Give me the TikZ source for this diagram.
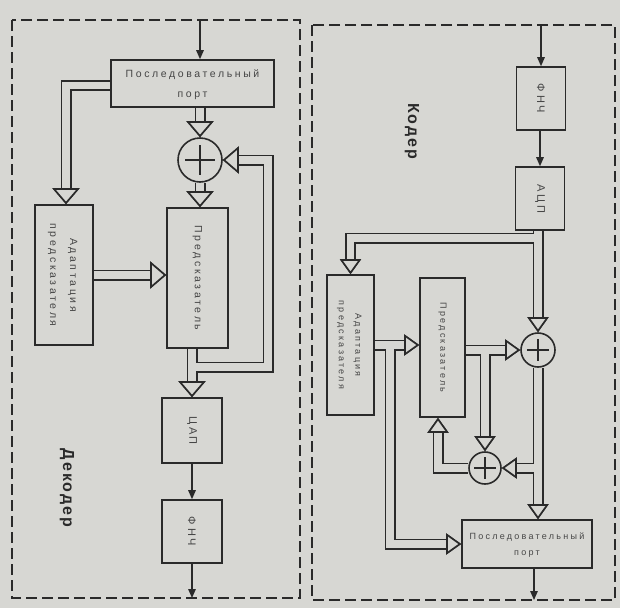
\documentclass[tikz,border=0pt]{standalone}
\usepackage{fontspec}
\usepackage{graphicx}
\setmainfont{Liberation Sans}
\newfontfamily\lbl[LetterSpace=25]{Liberation Sans}
\newfontfamily\ttl[LetterSpace=12]{Liberation Sans}
\usetikzlibrary{arrows.meta,calc}
\definecolor{bg}{RGB}{215,215,211}
\definecolor{ink}{RGB}{42,42,42}
\definecolor{txt}{RGB}{70,70,70}
\pgfdeclarelayer{bgl}\pgfdeclarelayer{lines}\pgfsetlayers{bgl,lines,main}
\newcommand\dfont{\lbl\fontsize{10.5}{20}\selectfont}
\newcommand\cfont{\lbl\fontsize{9}{16.5}\selectfont}
\newcommand\rfont{\lbl\fontsize{11}{13}\selectfont}
\newcommand\twolines[2]{\begin{tabular}{@{}c@{}}#1\\#2\end{tabular}}
\tikzset{
  box/.style={draw=ink, fill=bg, line width=1.6pt, rectangle, inner sep=0pt, text=txt, align=center},
  sum/.style={draw=ink, fill=bg, line width=1.6pt, circle, inner sep=0pt,
    path picture={\draw[ink, line width=1.6pt]
      ($(path picture bounding box.north)!0.17!(path picture bounding box.south)$) --
      ($(path picture bounding box.north)!0.83!(path picture bounding box.south)$)
      ($(path picture bounding box.west)!0.17!(path picture bounding box.east)$) --
      ($(path picture bounding box.west)!0.83!(path picture bounding box.east)$);}},
  dtip/.style={-{Triangle[length=16pt,width=27pt,line width'=1.6pt,color=ink,fill=bg]}},
  ctip/.style={-{Triangle[length=15pt,width=21pt,line width'=1.6pt,color=ink,fill=bg]}},
  dblo/.style={line join=miter, draw=ink, line width=11pt},
  dbli/.style={line join=miter, draw=bg, line width=7.6pt},
  sgl/.style={draw=ink, line width=1.4pt, -{Triangle[length=9pt,width=7.5pt]}},
  frame/.style={draw=ink, line width=1.6pt, dash pattern=on 11pt off 5pt},
  title/.style={font=\ttl\bfseries\fontsize{16}{18}\selectfont, text=ink, rotate=-90},
}
\newcommand\dblpaths[1]{%
  % decoder
  \draw[#1,dtip] (dport.south -| dsum) -- (dsum.north);
  \draw[#1,dtip] (dsum.south) -- (dsum.south |- dpred.north);
  \draw[#1,dtip] ([yshift=-2pt]dport.west) -| ([xshift=2pt]dadapt.north);
  \draw[#1,dtip] (dadapt.east) -- (dadapt.east -| dpred.west);
  \draw[#1,dtip] (dpred.south -| ddac) -- (ddac.north);
  \draw[#1,dtip] (dj) -- (dfb) |- (dsum.east);
  % coder
  \draw[#1,ctip] (cadc.south -| csum1) -- (csum1.north);
  \draw[#1,ctip] (cj1) -| (cadapt.north);
  \draw[#1,ctip] (cadapt.east) -- (cadapt.east -| cpred.west);
  \draw[#1,ctip] (cj2) |- (cport.west);
  \draw[#1,ctip] (cpred.east |- csum1.west) -- (csum1.west);
  \draw[#1,ctip] (csum2 |- csum1) -- (csum2.north);
  \draw[#1,ctip] (csum2.west) -| ([xshift=-4.5pt]cpred.south);
  \draw[#1,ctip] (csum1.south) -- (csum1.south |- cport.north);
  \draw[#1,ctip] (csum1 |- csum2) -- (csum2.east);
}
\begin{document}
\begin{tikzpicture}[x=1pt,y=-1pt]
\useasboundingbox (0,0) rectangle (620,608);
\begin{pgfonlayer}{bgl}
  \fill[bg] (0,0) rectangle (620,608);
\end{pgfonlayer}
% frames
\draw[frame] (12,20) rectangle (300,598);
\draw[frame] (312,25) rectangle (615,600);
% decoder nodes
\node[box, minimum width=163pt, minimum height=47pt] (dport) at (192.5,83.5) {\raisebox{6pt}{\dfont\twolines{Последовательный}{порт}}};
\node[sum, minimum size=44pt] (dsum) at (200,160) {};
\node[box, minimum width=61pt, minimum height=140pt] (dpred) at (197.5,278) {\rotatebox{-90}{\dfont Предсказатель}};
\node[box, minimum width=58pt, minimum height=140pt] (dadapt) at (64,275) {\rotatebox{-90}{\dfont\twolines{Адаптация}{предсказателя}}};
\node[box, minimum width=60pt, minimum height=65pt] (ddac) at (192,430.5) {\rotatebox{-90}{\rfont ЦАП}};
\node[box, minimum width=60pt, minimum height=63pt] (dlpf) at (192,531.5) {\rotatebox{-90}{\rfont ФНЧ}};
\node[title] (tdec) at (67,488) {Декодер};
\coordinate (din) at (200,20);
\coordinate (dout) at (192,598);
\coordinate (dj) at (192,367);
\coordinate (dfb) at (268,367);
% coder nodes
\node[box, minimum width=49pt, minimum height=63pt] (clpf) at (541,98.5) {\rotatebox{-90}{\rfont ФНЧ}};
\node[box, minimum width=49pt, minimum height=63pt] (cadc) at (540,198.5) {\rotatebox{-90}{\rfont АЦП}};
\node[box, minimum width=47pt, minimum height=140pt] (cadapt) at (350.5,345) {\rotatebox{-90}{\cfont\twolines{Адаптация}{предсказателя}}};
\node[box, minimum width=45pt, minimum height=139pt] (cpred) at (442.5,347.5) {\rotatebox{-90}{\cfont Предсказатель}};
\node[sum, minimum size=34pt] (csum1) at (538,350) {};
\node[sum, minimum size=32pt] (csum2) at (485,468) {};
\node[box, minimum width=130pt, minimum height=48pt] (cport) at (527,544) {\raisebox{2.5pt}{\cfont\twolines{Последовательный}{порт}}};
\node[title] (tcod) at (412,131) {Кодер};
\coordinate (cin) at (541,25);
\coordinate (cout) at (534,600);
\coordinate (cj1) at (538,238);
\coordinate (cj2) at (390,345);
% double connectors
\begin{pgfonlayer}{lines}
  \dblpaths{dblo}
  \dblpaths{dbli}
\end{pgfonlayer}
% single connectors
\draw[sgl] (din) -- (dport.north -| din);
\draw[sgl] (ddac.south) -- (dlpf.north);
\draw[sgl] (dlpf.south) -- (dout);
\draw[sgl] (cin) -- (clpf.north);
\draw[sgl] (clpf.south -| cadc) -- (cadc.north);
\draw[sgl] (cport.south -| cout) -- (cout);
\end{tikzpicture}
\end{document}
